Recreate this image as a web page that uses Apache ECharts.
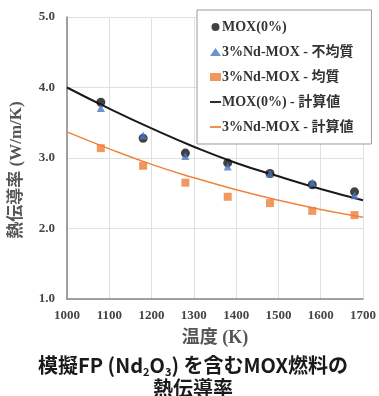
<!DOCTYPE html>
<html>
<head>
<meta charset="utf-8">
<script src="https://cdn.jsdelivr.net/npm/echarts@6/dist/echarts.min.js"></script>
<style>
  html, body { margin: 0; padding: 0; background: #fff; }
  #chart { width: 379px; height: 396px; }
</style>
</head>
<body>
<div id="chart"></div>
<script>
// measured temperatures (K)
const tempPts = [1080, 1180, 1280, 1380, 1480, 1580, 1680];
const moxVals = [3.79, 3.28, 3.07, 2.93, 2.78, 2.62, 2.52];
const heteroVals = [3.71, 3.32, 3.03, 2.88, 2.78, 2.65, 2.47];
const homoVals = [3.14, 2.89, 2.65, 2.45, 2.36, 2.25, 2.19];

// calculated curves
const calcTemps = [1000, 1100, 1200, 1300, 1400, 1500, 1600, 1700];
const moxCalc = [4.00, 3.70, 3.42, 3.16, 2.93, 2.74, 2.56, 2.40];
const ndCalc = [3.37, 3.13, 2.91, 2.72, 2.55, 2.40, 2.27, 2.16];

const names = ['MOX(0%)', '3%Nd-MOX - 不均質', '3%Nd-MOX - 均質', 'MOX(0%) - 計算値', '3%Nd-MOX - 計算値'];

const zip = (xs, ys) => xs.map((x, i) => [x, ys[i]]);

const serif = "'Liberation Serif', 'Noto Sans CJK JP', serif";
const labelStyle = { fontFamily: serif, fontWeight: 'bold', fontSize: 13, color: '#444' };
// short horizontal dash for the line entries (extra moves keep the box square-ish)
const dashIcon = 'path://M0,0 M12,8 M0,3 L12,3 L12,5 L0,5 Z';
const capFont = "'Noto Sans CJK JP', 'Noto Sans', sans-serif";

const chart = echarts.init(document.getElementById('chart'));
chart.setOption({
  animation: false,
  title: {
    text: '{a|模擬FP (Nd}{s|2}{a|O}{s|3}{a|) を含むMOX燃料の}\n{a|熱伝導率}',
    left: 193,
    top: 354,
    padding: 0,
    textAlign: 'center',
    textStyle: {
      rich: {
        a: { fontFamily: capFont, fontWeight: 'bold', fontSize: 20, color: '#1a1a1a', lineHeight: 23 },
        s: { fontFamily: capFont, fontWeight: 'bold', fontSize: 11, color: '#1a1a1a', lineHeight: 13, verticalAlign: 'bottom' }
      }
    }
  },
  grid: { left: 65, right: 15, top: 17, bottom: 97 },
  legend: {
    orient: 'vertical',
    left: 197,
    top: 10,
    padding: [10, 18, 10, 13],
    itemGap: 11,
    itemWidth: 11,
    itemHeight: 8,
    backgroundColor: '#fff',
    borderColor: '#9a9a9a',
    borderWidth: 1,
    textStyle: { fontFamily: serif, fontWeight: 'bold', fontSize: 14, color: '#333', padding: [0, 0, 0, -4] },
    data: [
      { name: names[0], icon: 'circle' },
      { name: names[1], icon: 'triangle' },
      { name: names[2], icon: 'rect' },
      { name: names[3], icon: dashIcon },
      { name: names[4], icon: dashIcon }
    ]
  },
  xAxis: {
    type: 'value',
    min: 1000,
    max: 1700,
    interval: 100,
    name: '温度 (K)',
    nameLocation: 'middle',
    nameGap: 30,
    nameTextStyle: { fontFamily: serif, fontWeight: 'bold', fontSize: 18, color: '#555' },
    axisLine: { onZero: false, lineStyle: { color: '#8c8480', width: 1.5 } },
    axisTick: { show: false },
    axisLabel: Object.assign({ margin: 10, formatter: v => String(v) }, labelStyle),
    splitLine: { show: true, lineStyle: { color: '#e0e0e0' } }
  },
  yAxis: {
    type: 'value',
    min: 1,
    max: 5,
    interval: 1,
    name: '熱伝導率 (W/m/K)',
    nameLocation: 'middle',
    nameGap: 42,
    nameTextStyle: { fontFamily: serif, fontWeight: 'bold', fontSize: 17, color: '#555', padding: [0, 24, 0, 0] },
    axisLine: { show: true, lineStyle: { color: '#8c8480', width: 1.5 } },
    axisTick: { show: false },
    axisLabel: Object.assign({ margin: 12, formatter: v => v.toFixed(1) }, labelStyle),
    splitLine: { show: true, lineStyle: { color: '#e0e0e0' } }
  },
  series: [
    {
      name: names[3], type: 'line', data: zip(calcTemps, moxCalc), smooth: true,
      symbol: 'none', lineStyle: { color: '#1a1a1a', width: 2 }, itemStyle: { color: '#1a1a1a' }, z: 2
    },
    {
      name: names[4], type: 'line', data: zip(calcTemps, ndCalc), smooth: true,
      symbol: 'none', lineStyle: { color: '#f0843c', width: 1.5 }, itemStyle: { color: '#f0843c' }, z: 2
    },
    {
      name: names[0], type: 'scatter', data: zip(tempPts, moxVals), symbol: 'circle', symbolSize: 9,
      itemStyle: { color: '#111' }, z: 3
    },
    {
      name: names[1], type: 'scatter', data: zip(tempPts, heteroVals), symbol: 'triangle', symbolSize: 8,
      itemStyle: { color: '#4a78c8' }, z: 4
    },
    {
      name: names[2], type: 'scatter', data: zip(tempPts, homoVals), symbol: 'rect', symbolSize: 8,
      itemStyle: { color: '#ef7d38' }, z: 3
    }
  ]
});
</script>
</body>
</html>
